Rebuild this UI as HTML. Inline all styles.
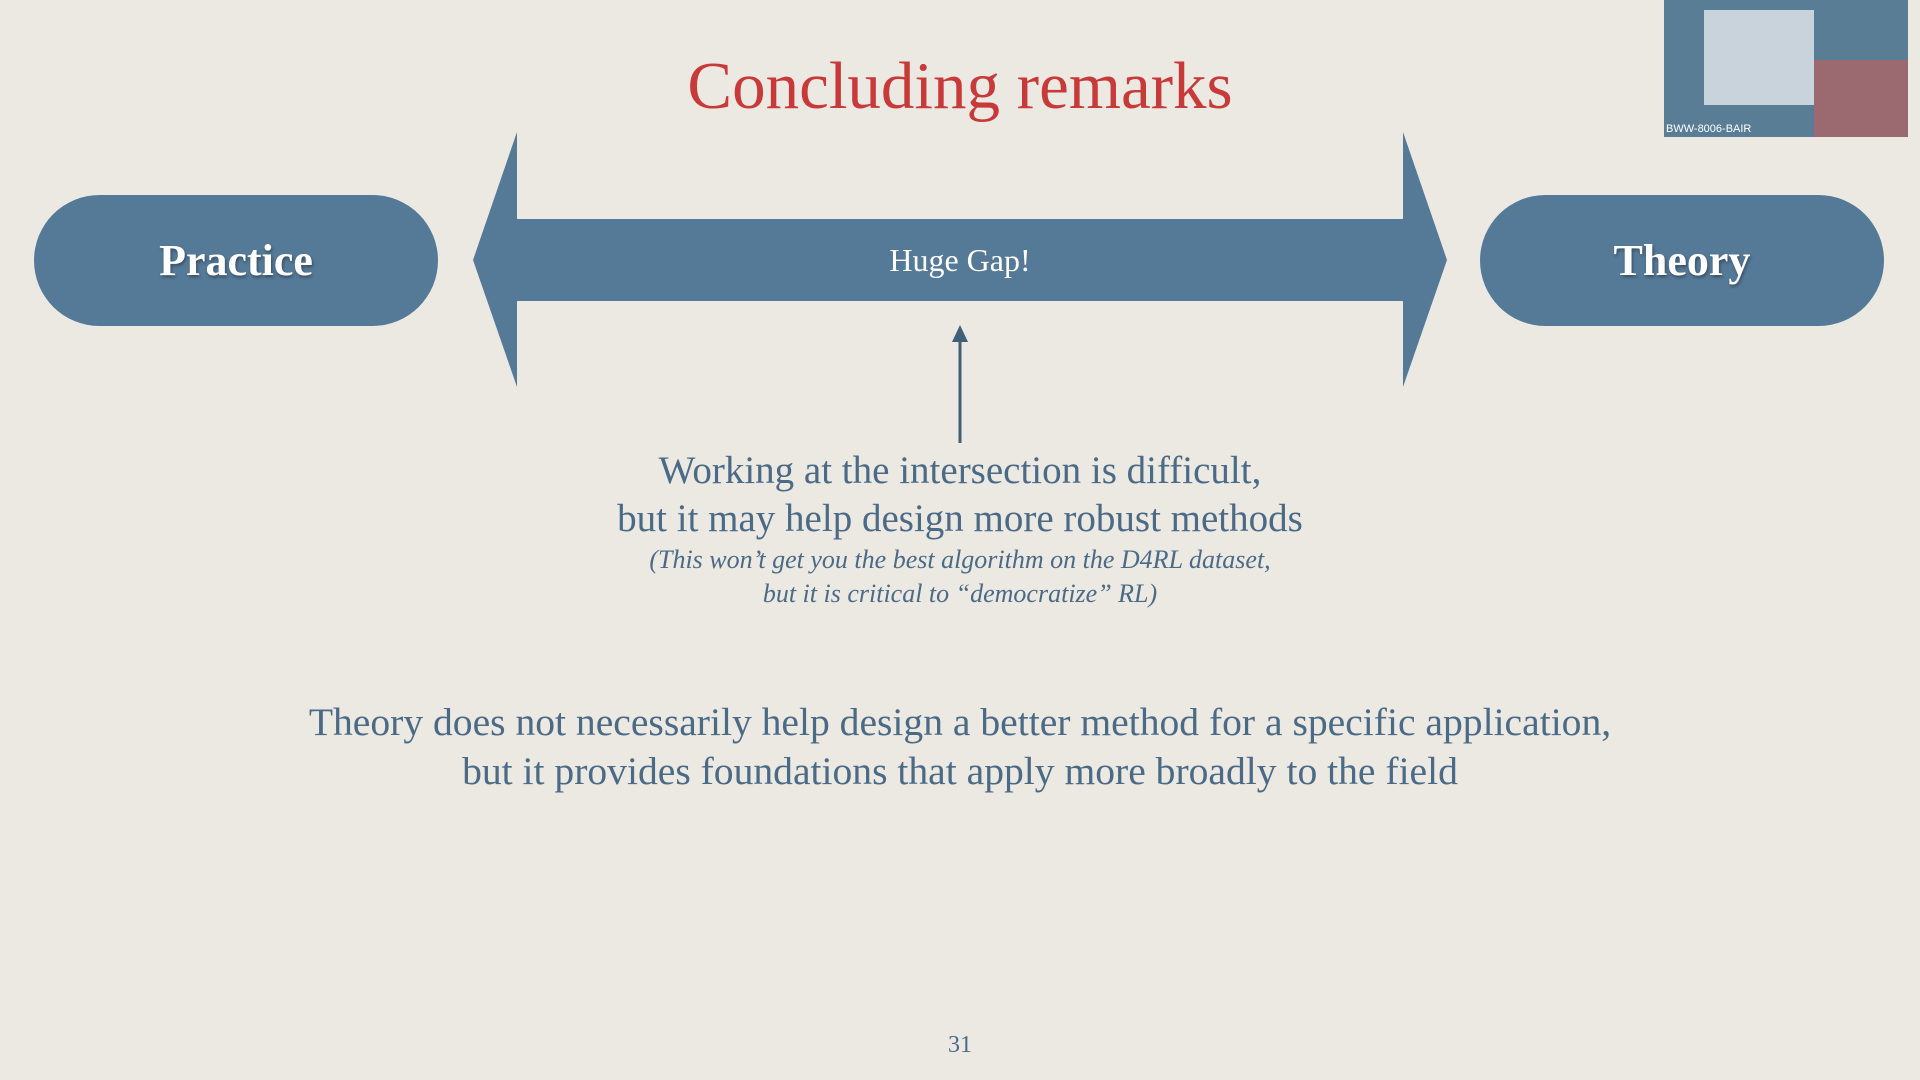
<!DOCTYPE html>
<html><head><meta charset="utf-8"><style>
body{margin:0;width:1920px;height:1080px;background:#ece9e3;position:relative;overflow:hidden;font-family:"Liberation Serif",serif;}
.t{position:absolute;left:0;width:1920px;text-align:center;white-space:nowrap;}
.pill{position:absolute;top:195px;width:404px;height:131px;border-radius:66px;background:#557a98;color:#fff;font-size:44px;font-weight:bold;display:flex;align-items:center;justify-content:center;text-shadow:1px 2px 3px rgba(0,0,0,.4);}
</style></head><body>
<div class="t" style="top:48px;font-size:67px;color:#c8393a;">Concluding remarks</div>
<div class="pill" style="left:34px;">Practice</div>
<div class="pill" style="left:1480px;">Theory</div>
<svg width="1920" height="1080" style="position:absolute;left:0;top:0">
<polygon points="473,260 517,132 517,219 1403,219 1403,132 1447,260 1403,387 1403,301 517,301 517,387" fill="#557a98"/>
<line x1="960" y1="340" x2="960" y2="443" stroke="#3f5f7a" stroke-width="3"/>
<polygon points="952,342 968,342 960,325" fill="#3f5f7a"/>
</svg>
<div class="t" style="top:242px;font-size:32px;color:#fff;">Huge Gap!</div>
<div class="t" style="top:447px;font-size:39px;color:#4a6a86;line-height:48px;">Working at the intersection is difficult,<br>but it may help design more robust methods</div>
<div class="t" style="top:543px;font-size:26px;font-style:italic;color:#4a6a86;line-height:34px;">(This won’t get you the best algorithm on the D4RL dataset,<br>but it is critical to “democratize” RL)</div>
<div class="t" style="top:698px;font-size:39.6px;color:#4a6a86;line-height:49px;">Theory does not necessarily help design a better method for a specific application,<br>but it provides foundations that apply more broadly to the field</div>
<div class="t" style="top:1032px;font-size:24px;color:#4a6a86;">31</div>
<div style="position:absolute;left:1664px;top:0;width:244px;height:137px;background:#5a7d96;">
<div style="position:absolute;left:40px;top:10px;width:110px;height:95px;background:#c9d3dc;"></div>
<div style="position:absolute;left:150px;top:60px;width:94px;height:77px;background:#9a6a70;"></div>
<div style="position:absolute;left:2px;bottom:2px;color:#fff;font:11px 'Liberation Sans',sans-serif;">BWW-8006-BAIR</div>
</div>
</body></html>
